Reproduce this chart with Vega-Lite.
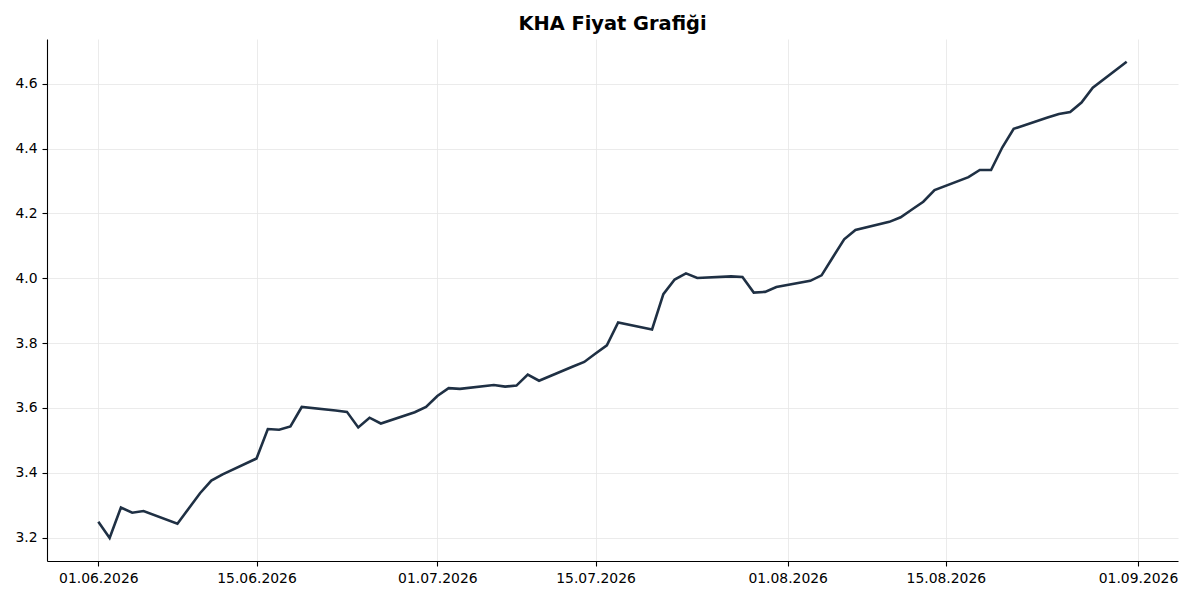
{
  "$schema": "https://vega.github.io/schema/vega-lite/v6.json",
  "description": "KHA Fiyat Grafigi - daily close, June to August 2026",
  "width": 1131,
  "height": 522,
  "autosize": {"type": "none"},
  "padding": {"left": 47, "top": 39, "right": 22, "bottom": 39},
  "background": "white",
  "title": {
    "text": "KHA Fiyat Grafiği",
    "font": "DejaVu Sans",
    "fontSize": 19.4,
    "fontWeight": "bold",
    "color": "#000000",
    "anchor": "middle",
    "offset": 5
  },
  "config": {
    "view": {"stroke": null},
    "axis": {
      "labelFont": "DejaVu Sans",
      "labelFontSize": 13.9,
      "labelColor": "#000000",
      "domainColor": "#000000",
      "domainWidth": 1.1,
      "tickColor": "#000000",
      "tickWidth": 1.1,
      "tickSize": 5,
      "labelPadding": 5,
      "gridColor": "#e6e6e6",
      "gridWidth": 0.8,
      "title": null
    }
  },
  "data": {
    "values": [
      {"date": "2026-06-01", "price": 3.249},
      {"date": "2026-06-02", "price": 3.199},
      {"date": "2026-06-03", "price": 3.293},
      {"date": "2026-06-04", "price": 3.277},
      {"date": "2026-06-05", "price": 3.282},
      {"date": "2026-06-08", "price": 3.243},
      {"date": "2026-06-09", "price": 3.290},
      {"date": "2026-06-10", "price": 3.337},
      {"date": "2026-06-11", "price": 3.376},
      {"date": "2026-06-12", "price": 3.395},
      {"date": "2026-06-15", "price": 3.444},
      {"date": "2026-06-16", "price": 3.535},
      {"date": "2026-06-17", "price": 3.533},
      {"date": "2026-06-18", "price": 3.543},
      {"date": "2026-06-19", "price": 3.603},
      {"date": "2026-06-22", "price": 3.592},
      {"date": "2026-06-23", "price": 3.588},
      {"date": "2026-06-24", "price": 3.540},
      {"date": "2026-06-25", "price": 3.570},
      {"date": "2026-06-26", "price": 3.552},
      {"date": "2026-06-29", "price": 3.587},
      {"date": "2026-06-30", "price": 3.603},
      {"date": "2026-07-01", "price": 3.637},
      {"date": "2026-07-02", "price": 3.661},
      {"date": "2026-07-03", "price": 3.659},
      {"date": "2026-07-06", "price": 3.671},
      {"date": "2026-07-07", "price": 3.666},
      {"date": "2026-07-08", "price": 3.669},
      {"date": "2026-07-09", "price": 3.703},
      {"date": "2026-07-10", "price": 3.684},
      {"date": "2026-07-13", "price": 3.728},
      {"date": "2026-07-14", "price": 3.742},
      {"date": "2026-07-15", "price": 3.768},
      {"date": "2026-07-16", "price": 3.793},
      {"date": "2026-07-17", "price": 3.864},
      {"date": "2026-07-20", "price": 3.842},
      {"date": "2026-07-21", "price": 3.951},
      {"date": "2026-07-22", "price": 3.996},
      {"date": "2026-07-23", "price": 4.015},
      {"date": "2026-07-24", "price": 4.001},
      {"date": "2026-07-27", "price": 4.006},
      {"date": "2026-07-28", "price": 4.004},
      {"date": "2026-07-29", "price": 3.956},
      {"date": "2026-07-30", "price": 3.958},
      {"date": "2026-07-31", "price": 3.973},
      {"date": "2026-08-03", "price": 3.992},
      {"date": "2026-08-04", "price": 4.009},
      {"date": "2026-08-05", "price": 4.065},
      {"date": "2026-08-06", "price": 4.120},
      {"date": "2026-08-07", "price": 4.149},
      {"date": "2026-08-10", "price": 4.174},
      {"date": "2026-08-11", "price": 4.188},
      {"date": "2026-08-12", "price": 4.212},
      {"date": "2026-08-13", "price": 4.236},
      {"date": "2026-08-14", "price": 4.272},
      {"date": "2026-08-17", "price": 4.312},
      {"date": "2026-08-18", "price": 4.334},
      {"date": "2026-08-19", "price": 4.334},
      {"date": "2026-08-20", "price": 4.404},
      {"date": "2026-08-21", "price": 4.461},
      {"date": "2026-08-24", "price": 4.496},
      {"date": "2026-08-25", "price": 4.507},
      {"date": "2026-08-26", "price": 4.513},
      {"date": "2026-08-27", "price": 4.542},
      {"date": "2026-08-28", "price": 4.588},
      {"date": "2026-08-31", "price": 4.668}
    ]
  },
  "mark": {"type": "line", "color": "#1f3044", "strokeWidth": 2.6, "clip": true},
  "encoding": {
    "x": {
      "field": "date",
      "type": "temporal",
      "scale": {
        "type": "utc",
        "domain": [
          {"year": 2026, "month": 5, "date": 27, "hours": 11, "utc": true},
          {"year": 2026, "month": 9, "date": 4, "hours": 13, "utc": true}
        ]
      },
      "axis": {
        "grid": true,
        "format": "%d.%m.%Y",
        "values": [
          {"year": 2026, "month": 6, "date": 1, "utc": true},
          {"year": 2026, "month": 6, "date": 15, "utc": true},
          {"year": 2026, "month": 7, "date": 1, "utc": true},
          {"year": 2026, "month": 7, "date": 15, "utc": true},
          {"year": 2026, "month": 8, "date": 1, "utc": true},
          {"year": 2026, "month": 8, "date": 15, "utc": true},
          {"year": 2026, "month": 9, "date": 1, "utc": true}
        ]
      }
    },
    "y": {
      "field": "price",
      "type": "quantitative",
      "scale": {"domain": [3.128, 4.738], "nice": false, "zero": false},
      "axis": {
        "grid": true,
        "values": [3.2, 3.4, 3.6, 3.8, 4.0, 4.2, 4.4, 4.6],
        "format": ".1f"
      }
    }
  }
}
